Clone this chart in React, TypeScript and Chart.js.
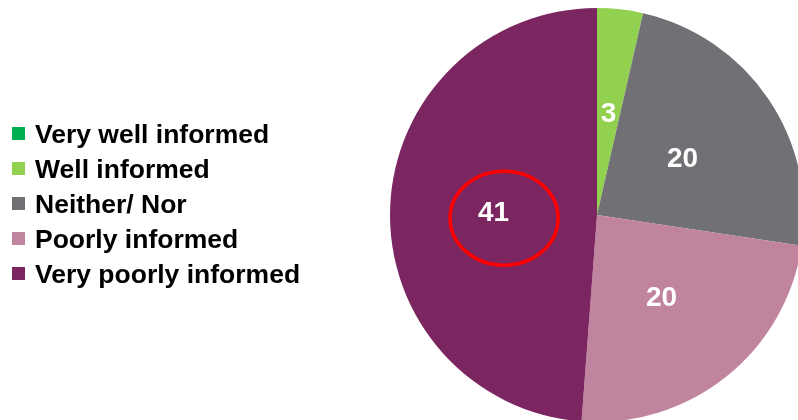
import React, { useEffect, useRef } from "react";
import { Chart, registerables } from "chart.js";

Chart.register(...registerables);

const categories = [
  "Very well informed",
  "Well informed",
  "Neither/ Nor",
  "Poorly informed",
  "Very poorly informed",
];
const values = [0, 3, 20, 20, 41];
const colors = ["#00b050", "#92d050", "#717075", "#c1849e", "#7b2660"];
const highlightIndex = 4;

const FONT = '"Liberation Sans", Arial, sans-serif';

const labelPlugin = {
  id: "sliceLabels",
  afterDatasetsDraw(chart: any) {
    const ctx = chart.ctx;
    const meta = chart.getDatasetMeta(0);
    ctx.save();
    ctx.fillStyle = "#ffffff";
    ctx.font = `bold 28px ${FONT}`;
    ctx.textAlign = "center";
    ctx.textBaseline = "middle";
    meta.data.forEach((arc: any, i: number) => {
      const v = values[i];
      if (!v) return;
      const p = arc.tooltipPosition();
      ctx.fillText(String(v), p.x, p.y + 2.5);
      if (i === highlightIndex) {
        ctx.beginPath();
        ctx.strokeStyle = "#ff0000";
        ctx.lineWidth = 3.5;
        ctx.ellipse(p.x + 10.5, p.y + 7, 54, 47, 0, 0, Math.PI * 2);
        ctx.stroke();
      }
    });
    ctx.restore();
  },
};

const legendPlugin = {
  id: "leftLegend",
  afterDraw(chart: any) {
    const ctx = chart.ctx;
    ctx.save();
    ctx.font = `bold 26.5px ${FONT}`;
    ctx.textAlign = "left";
    ctx.textBaseline = "alphabetic";
    categories.forEach((c, i) => {
      const base = 143 + i * 35;
      ctx.fillStyle = colors[i];
      ctx.fillRect(12, base - 16, 13, 13);
      ctx.fillStyle = "#000000";
      ctx.fillText(c, 35, base);
    });
    ctx.restore();
  },
};

export default function App() {
  const ref = useRef<HTMLCanvasElement>(null);
  useEffect(() => {
    document.body.style.margin = "0";
    const chart = new Chart(ref.current as HTMLCanvasElement, {
      type: "pie",
      data: {
        labels: categories,
        datasets: [
          {
            data: values,
            backgroundColor: colors,
            borderWidth: 0,
          },
        ],
      },
      options: {
        animation: false,
        responsive: false,
        layout: { padding: { left: 390, right: 6, top: 8, bottom: 8 } },
        plugins: {
          legend: { display: false },
          tooltip: { enabled: false },
        },
      },
      plugins: [labelPlugin, legendPlugin],
    });
    return () => chart.destroy();
  }, []);
  return (
    <div
      style={{
        position: "absolute",
        left: 0,
        top: 0,
        width: 798,
        height: 420,
        overflow: "hidden",
        background: "#ffffff",
      }}
    >
      <canvas ref={ref} width={810} height={430} style={{ display: "block" }} />
    </div>
  );
}
